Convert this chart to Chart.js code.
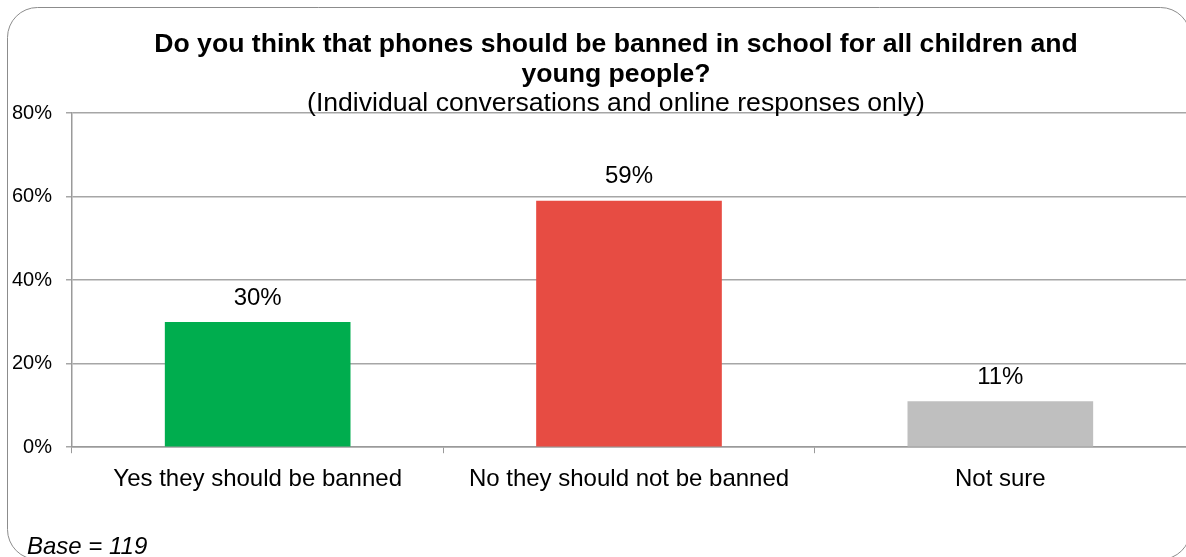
<!DOCTYPE html>
<html>
<head>
<meta charset="utf-8">
<title>Phones in school</title>
<script src="https://cdn.jsdelivr.net/npm/chart.js@4"></script>
<style>
  html, body { margin: 0; padding: 0; background: #fff; }
  #wrap { width: 1186px; height: 557px; position: relative; }
</style>
</head>
<body>
<div id="wrap"><canvas id="phonesChart"></canvas></div>
<script>
// Survey answers and their share of responses (%)
const answers = ['Yes they should be banned', 'No they should not be banned', 'Not sure'];
const shares = [30, 59, 11];
const barColours = ['#00ad4e', '#e74c43', '#bfbfbf'];
const yTicks = [0, 20, 40, 60, 80];

const titleLines = ['Do you think that phones should be banned in school for all children and', 'young people?'];
const subtitleText = '(Individual conversations and online responses only)';
const baseNote = 'Base = 119';

const FONT = '"Liberation Sans", Arial, sans-serif';

// Rounded frame, headings, bar value labels and base note
const decorations = {
    id: 'decorations',
    beforeDraw(chart) {
        const ctx = chart.ctx;
        ctx.save();
        ctx.strokeStyle = '#8c8c8c';
        ctx.lineWidth = 1;
        ctx.beginPath();
        ctx.roundRect(7.5, 7.5, 1183, 552, 30);
        ctx.stroke();
        ctx.restore();
    },
    afterDatasetsDraw(chart) {
        const ctx = chart.ctx;
        ctx.save();
        ctx.fillStyle = '#000';
        ctx.textAlign = 'center';
        ctx.textBaseline = 'middle';

        ctx.font = 'bold 26.6px ' + FONT;
        ctx.fillText(titleLines[0], 616, 45);
        ctx.fillText(titleLines[1], 616, 75);

        ctx.font = '26.6px ' + FONT;
        ctx.fillText(subtitleText, 616, 104);

        // value labels above each bar
        ctx.font = '24px ' + FONT;
        const meta = chart.getDatasetMeta(0);
        meta.data.forEach((bar, i) => {
            ctx.fillText(shares[i] + '%', bar.x, bar.y - 24);
        });

        ctx.textAlign = 'left';
        ctx.font = 'italic 24px ' + FONT;
        ctx.fillText(baseNote, 27, 547);
        ctx.restore();
    }
};

const ctx = document.getElementById('phonesChart').getContext('2d');
new Chart(ctx, {
    type: 'bar',
    data: {
        labels: answers,
        datasets: [{
            data: shares,
            backgroundColor: barColours,
            borderWidth: 0,
            barPercentage: 0.5,
            categoryPercentage: 1
        }]
    },
    options: {
        responsive: true,
        maintainAspectRatio: false,
        animation: false,
        events: [],
        layout: { padding: { top: 113, left: 12, right: 0, bottom: 51 } },
        plugins: {
            legend: { display: false },
            tooltip: { enabled: false }
        },
        scales: {
            x: {
                grid: {
                    offset: true,
                    drawOnChartArea: false,
                    drawTicks: true,
                    tickLength: 6,
                    color: '#9a9a9a'
                },
                border: { color: '#9a9a9a', width: 1.5 },
                ticks: {
                    color: '#000',
                    padding: 12,
                    font: { family: FONT, size: 24 }
                }
            },
            y: {
                min: 0,
                max: 80,
                afterBuildTicks(scale) {
                    scale.ticks = yTicks.map(v => ({ value: v }));
                },
                afterFit(scale) {
                    scale.width = 60;
                },
                grid: {
                    color: '#a6a6a6',
                    lineWidth: 1.5,
                    tickLength: 6
                },
                border: { color: '#9a9a9a', width: 1.5 },
                ticks: {
                    color: '#000',
                    padding: 14,
                    font: { family: FONT, size: 20 },
                    callback: v => v + '%'
                }
            }
        }
    },
    plugins: [decorations]
});
</script>
</body>
</html>
